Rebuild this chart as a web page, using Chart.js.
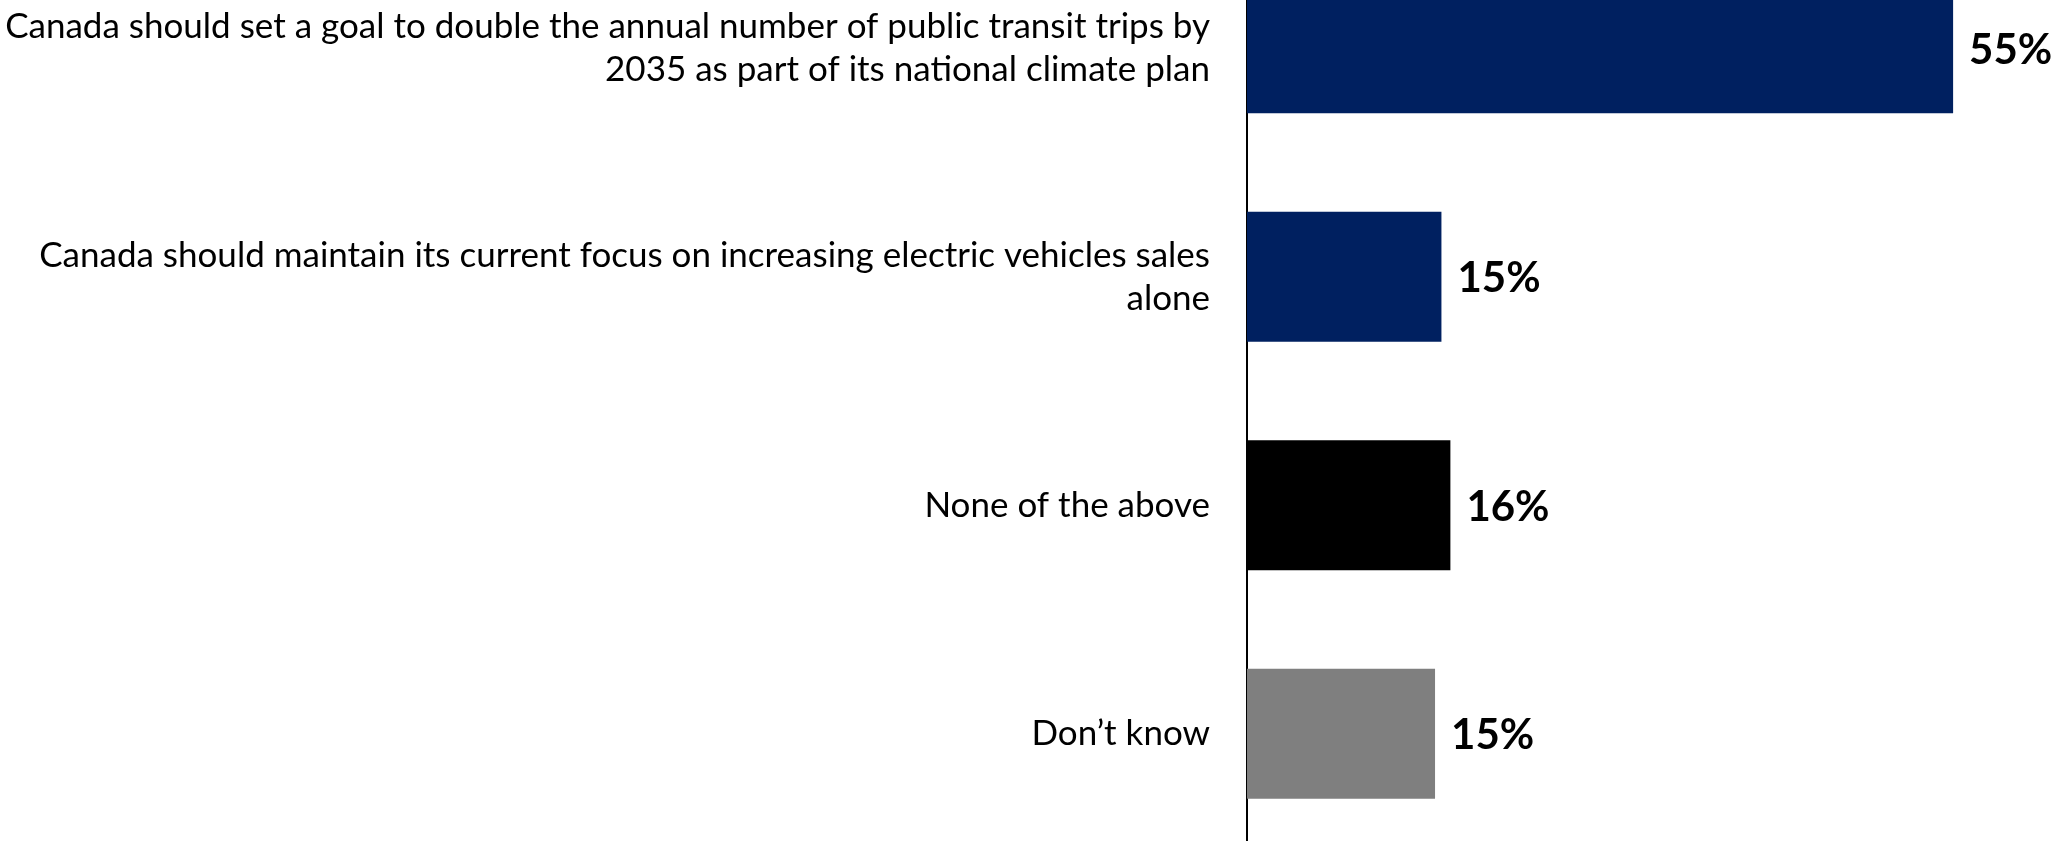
<!DOCTYPE html>
<html>
<head>
<meta charset="utf-8">
<script src="https://cdn.jsdelivr.net/npm/chart.js@4.4.1/dist/chart.umd.min.js"></script>
<style>
  html, body { margin: 0; padding: 0; background: #fff; overflow: hidden; }
  #wrap { position: absolute; left: 0; top: -66px; width: 2058px; height: 914px; }
</style>
</head>
<body>
<div id="wrap"><canvas id="chart" width="2058" height="914"></canvas></div>
<script>
// data
const categories = [
  ["Canada should set a goal to double the annual number of public transit trips by", "2035 as part of its national climate plan"],
  ["Canada should maintain its current focus on increasing electric vehicles sales", "alone"],
  "None of the above",
  "Don\u2019t know"
];
const values = [55.2, 15.2, 15.9, 14.7];
const barColors = ["#002060", "#002060", "#000000", "#7f7f7f"];

// value labels to the right of each bar
const valueLabels = {
  id: "valueLabels",
  afterDatasetsDraw(chart) {
    const ctx = chart.ctx;
    const meta = chart.getDatasetMeta(0);
    ctx.save();
    ctx.font = "bold 42px Lato";
    ctx.fillStyle = "#000";
    ctx.textAlign = "left";
    ctx.textBaseline = "middle";
    meta.data.forEach((bar, i) => {
      ctx.fillText(Math.round(values[i]) + "%", bar.x + 16, bar.y + 2);
    });
    ctx.restore();
  }
};

new Chart(document.getElementById("chart"), {
  type: "bar",
  data: {
    labels: categories,
    datasets: [{
      data: values,
      backgroundColor: barColors,
      borderWidth: 0,
      barPercentage: 0.569,
      categoryPercentage: 1
    }]
  },
  options: {
    indexAxis: "y",
    responsive: false,
    animation: false,
    layout: { padding: 0 },
    plugins: { legend: { display: false }, tooltip: { enabled: false } },
    scales: {
      x: { display: false, min: 0, max: 63.4 },
      y: {
        grid: { display: false, drawTicks: false },
        border: { display: true, color: "#000", width: 2 },
        ticks: {
          autoSkip: false,
          padding: 37,
          color: "#000",
          font: { family: "Lato", size: 35, lineHeight: 43 / 35 }
        },
        afterFit(scale) {
          scale.width = 1247;
          scale.paddingTop = 0;
          scale.paddingBottom = 0;
        }
      }
    }
  },
  plugins: [valueLabels]
});
</script>
</body>
</html>
